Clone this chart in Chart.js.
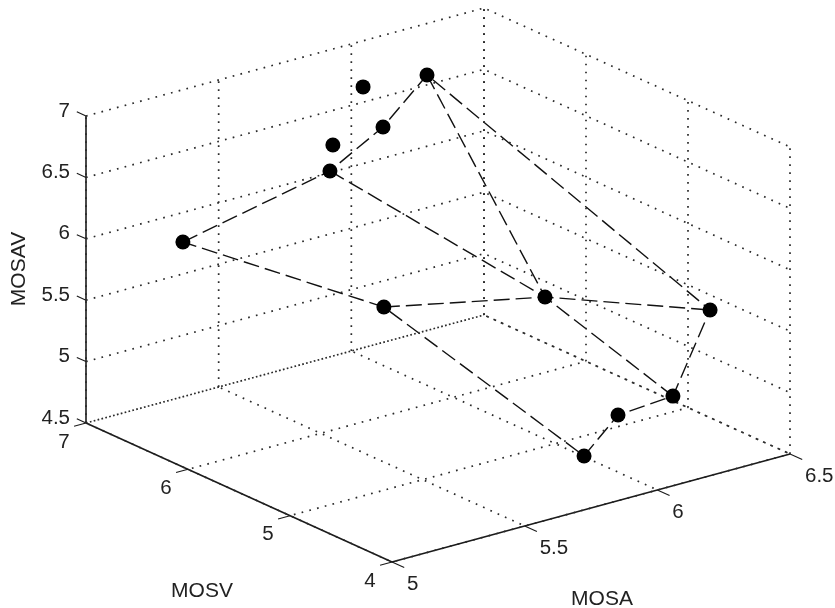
<!DOCTYPE html>
<html>
<head>
<meta charset="utf-8">
<title>MOS 3D</title>
<script src="https://cdn.jsdelivr.net/npm/chart.js@4"></script>
<style>
  html, body { margin: 0; padding: 0; background: #fff; }
  canvas { display: block; }
</style>
</head>
<body>
<canvas id="chart" width="835" height="608"></canvas>
<script>
// values
const mosa  = [5.173, 5.535, 5.735, 6.093, 6.391, 6.251, 6.044, 5.916, 5.546, 5.961, 5.546, 5.852];
const mosv  = [6.5, 6, 6, 6.5, 4.5, 4.5, 4.5, 4.5, 5.5, 5, 6, 6.5];
const mosav = [6.061, 6.616, 6.857, 6.882, 5.548, 4.929, 4.896, 4.638, 5.69, 5.717, 6.821, 6.926];

// which points are joined by the dashed line
const paths = [
  [0, 1, 2, 3, 4, 5, 6, 7, 8, 0],
  [8, 9, 4],
  [1, 9, 5],
  [3, 9]
];

const ticksA = [5, 5.5, 6, 6.5];
const ticksV = [4, 5, 6, 7];
const ticksZ = [4.5, 5, 5.5, 6, 6.5, 7];

const minA = 5, maxA = 6.5, minV = 4, maxV = 7, minZ = 4.5, maxZ = 7;

// matlab style orthographic view, gives the point in the x/y space of the chart
function project(a, v, z) {
  const ta = (a - minA) / (maxA - minA);
  const tv = (v - minV) / (maxV - minV);
  const tz = (z - minZ) / (maxZ - minZ);
  return {
    x: 392 + 398 * ta - 306 * tv,
    y: 562 - 108 * ta - 139 * tv - 307 * tz
  };
}

const lineDs = (data, extra) => Object.assign({
  data: data,
  showLine: true,
  pointRadius: 0,
  tension: 0,
  clip: false,
  borderColor: '#1a1a1a',
  borderWidth: 1.3
}, extra);

const dotted = { borderDash: [1.7, 6.3], borderWidth: 1.7, borderColor: '#2a2a2a' };
const dottedFloor = { borderDash: [1.7, 6.3], borderDashOffset: 4, borderWidth: 1.7, borderColor: '#2a2a2a' };
const datasets = [];

// walls
ticksZ.forEach(z => {
  datasets.push(lineDs([project(minA, maxV, z), project(maxA, maxV, z), project(maxA, minV, z)], dotted));
});
ticksA.forEach(a => {
  datasets.push(lineDs([project(a, maxV, minZ), project(a, maxV, maxZ)], dotted));
});
ticksV.forEach(v => {
  datasets.push(lineDs([project(maxA, v, minZ), project(maxA, v, maxZ)], dotted));
});

// floor
ticksA.forEach(a => {
  datasets.push(lineDs([project(a, minV, minZ), project(a, maxV, minZ)], dottedFloor));
});
ticksV.forEach(v => {
  datasets.push(lineDs([project(minA, v, minZ), project(maxA, v, minZ)], dottedFloor));
});

// axes
datasets.push(lineDs([project(minA, maxV, minZ), project(minA, maxV, maxZ)], { borderWidth: 1.6 }));
datasets.push(lineDs([project(minA, maxV, minZ), project(minA, minV, minZ)], { borderWidth: 1.6 }));
datasets.push(lineDs([project(minA, minV, minZ), project(maxA, minV, minZ)], { borderWidth: 1.6 }));

// tick marks
ticksZ.forEach(z => {
  datasets.push(lineDs([project(minA, maxV, z), project(minA, maxV + 0.09, z)], { borderWidth: 1.1 }));
});
ticksV.forEach(v => {
  datasets.push(lineDs([project(minA, v, minZ), project(minA - 0.045, v, minZ)], { borderWidth: 1.1 }));
});
ticksA.forEach(a => {
  datasets.push(lineDs([project(a, minV, minZ), project(a, minV - 0.12, minZ)], { borderWidth: 1.1 }));
});

// dashed connections
paths.forEach(p => {
  datasets.push(lineDs(p.map(i => project(mosa[i], mosv[i], mosav[i])), {
    borderDash: [16, 6],
    borderWidth: 1.4,
    borderColor: '#111'
  }));
});

// markers
datasets.push({
  data: mosa.map((a, i) => project(a, mosv[i], mosav[i])),
  showLine: false,
  pointRadius: 7.5,
  pointBackgroundColor: '#000',
  pointBorderWidth: 0,
  clip: false,
  order: -1
});

const textPlugin = {
  id: 'axisText',
  afterDraw(chart) {
    const { ctx, scales } = chart;
    const sx = v => scales.x.getPixelForValue(v);
    const sy = v => scales.y.getPixelForValue(v);
    const put = (txt, p, dx, dy, align) => {
      ctx.textAlign = align;
      ctx.fillText(txt, sx(p.x) + dx, sy(p.y) + dy);
    };

    ctx.save();
    ctx.fillStyle = '#222';
    ctx.textBaseline = 'middle';
    ctx.font = '20.5px "Liberation Sans", Arial, sans-serif';
    ticksZ.forEach(z => put(String(z), project(minA, maxV, z), -16, -5, 'right'));
    ticksV.forEach(v => put(String(v), project(minA, v, minZ), -22, 19, 'center'));
    ticksA.forEach(a => put(String(a), project(a, minV, minZ), 15, 22, 'left'));

    ctx.font = '21px "Liberation Sans", Arial, sans-serif';
    ctx.textAlign = 'center';
    ctx.fillText('MOSA', sx(602), sy(599));
    ctx.fillText('MOSV', sx(202), sy(591));
    ctx.translate(sx(19), sy(269));
    ctx.rotate(-Math.PI / 2);
    ctx.fillText('MOSAV', 0, 0);
    ctx.restore();
  }
};

new Chart(document.getElementById('chart'), {
  type: 'scatter',
  data: { datasets: datasets },
  plugins: [textPlugin],
  options: {
    responsive: false,
    animation: false,
    layout: { padding: 0, autoPadding: false },
    plugins: { legend: { display: false }, tooltip: { enabled: false } },
    scales: {
      x: { type: 'linear', min: 0, max: 835, display: false },
      y: { type: 'linear', min: 0, max: 608, reverse: true, display: false }
    }
  }
});
</script>
</body>
</html>
